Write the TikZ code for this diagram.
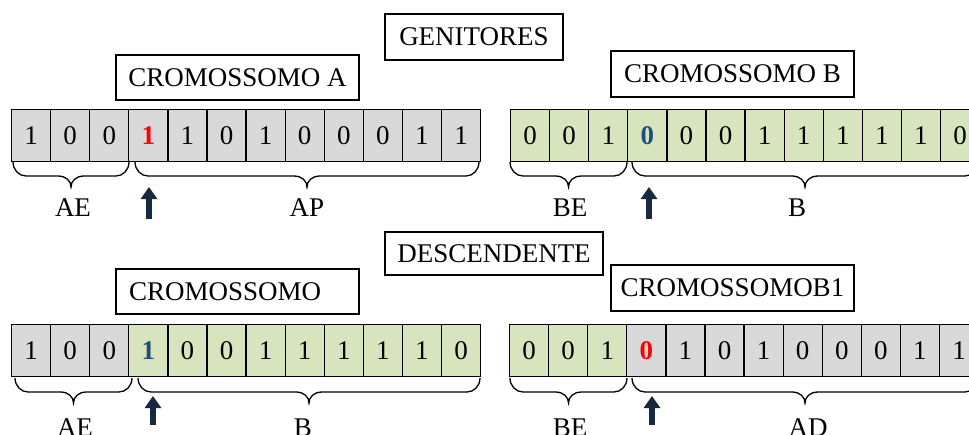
\documentclass[tikz,border=0pt]{standalone}
\usepackage{fontspec}
\setmainfont{Liberation Serif}
\usetikzlibrary{arrows.meta}

\definecolor{gy}{HTML}{D9D9D9}
\definecolor{gn}{HTML}{D7E4BD}
\definecolor{markred}{HTML}{FF0000}
\definecolor{markblue}{HTML}{1F4E79}
\definecolor{navy}{HTML}{172841}

% highlighted bits at the cut point
\newcommand\hotred[1]{\textcolor{markred}{\textbf{#1}}}
\newcommand\hotblue[1]{\textcolor{markblue}{\textbf{#1}}}

% downward curly brace: left x, right x, top y
\newcommand\brc[3]{%
  \draw[bracel] (#1,#3) .. controls (#1,{#3+8}) and ({#1+6},{#3+14}) .. ({#1+13},{#3+14})
    -- ({(#1+#2)/2-13},{#3+14})
    .. controls ({(#1+#2)/2-5},{#3+14}) and ({(#1+#2)/2},{#3+19}) .. ({(#1+#2)/2},{#3+25})
    .. controls ({(#1+#2)/2},{#3+19}) and ({(#1+#2)/2+5},{#3+14}) .. ({(#1+#2)/2+13},{#3+14})
    -- ({#2-13},{#3+14})
    .. controls ({#2-6},{#3+14}) and (#2,{#3+8}) .. (#2,#3);}

\tikzset{
  bit/.style={draw, line width=1.2pt, minimum width=39.08pt, minimum height=52pt,
    inner sep=0pt, anchor=north west},
  titlebox/.style={draw, line width=1.3pt, inner sep=0pt},
  label/.style={inner sep=0pt},
  bracel/.style={line width=1.3pt},
  cutarrow/.style={navy, line width=5.5pt, -{Triangle[width=16pt,length=12pt]}},
}

\begin{document}
\begin{tikzpicture}[x=1pt,y=-1pt,font=\fontsize{27}{30}\selectfont]
\useasboundingbox (0,0) rectangle (969,434);
\clip (0,0) rectangle (969,434);
\fill[white] (0,0) rectangle (969,434);

% headings
\node[titlebox, minimum width=178pt, minimum height=46pt] (gen) at (474,37) {GENITORES};
\node[titlebox, minimum width=218pt, minimum height=43pt] (desc) at (494,253.5) {DESCENDENTE};

% parent chromosome labels
\node[titlebox, minimum width=243pt, minimum height=45pt] (ca) at (237.5,77.5) {CROMOSSOMO A};
\node[titlebox, minimum width=243pt, minimum height=46pt] (cb) at (732.5,74) {CROMOSSOMO B};

% offspring chromosome labels
\node[titlebox, minimum width=243pt, minimum height=45pt] (cc) at (237.5,291.5) {};
\node[label, anchor=west] (cctext) at (129,291.5) {CROMOSSOMO};
\node[titlebox, minimum width=243pt, minimum height=46pt] (cd) at (732.5,288) {CROMOSSOMOB1};

% chromosome A
\foreach \f/\b [count=\i] in {gy/1,gy/0,gy/0,gy/\hotred{1},gy/1,gy/0,gy/1,gy/0,gy/0,gy/0,gy/1,gy/1}
  \node[bit, fill=\f] (pa\i) at ({11+(\i-1)*39.08},109) {\b};
% chromosome B
\foreach \f/\b [count=\i] in {gn/0,gn/0,gn/1,gn/\hotblue{0},gn/0,gn/0,gn/1,gn/1,gn/1,gn/1,gn/1,gn/0}
  \node[bit, fill=\f] (pb\i) at ({510+(\i-1)*39.08},109) {\b};
% offspring 1
\foreach \f/\b [count=\i] in {gy/1,gy/0,gy/0,gn/\hotblue{1},gn/0,gn/0,gn/1,gn/1,gn/1,gn/1,gn/1,gn/0}
  \node[bit, fill=\f] (oa\i) at ({11+(\i-1)*39.08},324) {\b};
% offspring 2
\foreach \f/\b [count=\i] in {gn/0,gn/0,gn/1,gy/\hotred{0},gy/1,gy/0,gy/1,gy/0,gy/0,gy/0,gy/1,gy/1}
  \node[bit, fill=\f] (ob\i) at ({509+(\i-1)*39.08},324) {\b};

% braces
\brc{13}{129}{162}
\brc{135}{479}{162}
\brc{510}{627}{162}
\brc{632}{978}{162}
\brc{15}{132}{378}
\brc{138}{480}{378}
\brc{510}{627}{378}
\brc{632}{978}{378}

% segment names
\node[label] (lae) at (73,208) {AE};
\node[label] (lap) at (307,208) {AP};
\node[label] (lbe) at (570,208) {BE};
\node[label] (lb) at (797,208) {B};
\node[label] (lae2) at (75,428) {AE};
\node[label] (lb2) at (303,428) {B};
\node[label] (lbe2) at (570,428) {BE};
\node[label] (lad) at (808,428) {AD};

% cut-point arrows
\coordinate (u1s) at (149,219); \coordinate (u1e) at (149,187);
\coordinate (u2s) at (649,219); \coordinate (u2e) at (649,187);
\coordinate (u3s) at (153,425); \coordinate (u3e) at (153,396);
\coordinate (u4s) at (652,425); \coordinate (u4e) at (652,396);
\draw[cutarrow] (u1s) -- (u1e);
\draw[cutarrow] (u2s) -- (u2e);
\draw[cutarrow] (u3s) -- (u3e);
\draw[cutarrow] (u4s) -- (u4e);
\end{tikzpicture}
\end{document}
